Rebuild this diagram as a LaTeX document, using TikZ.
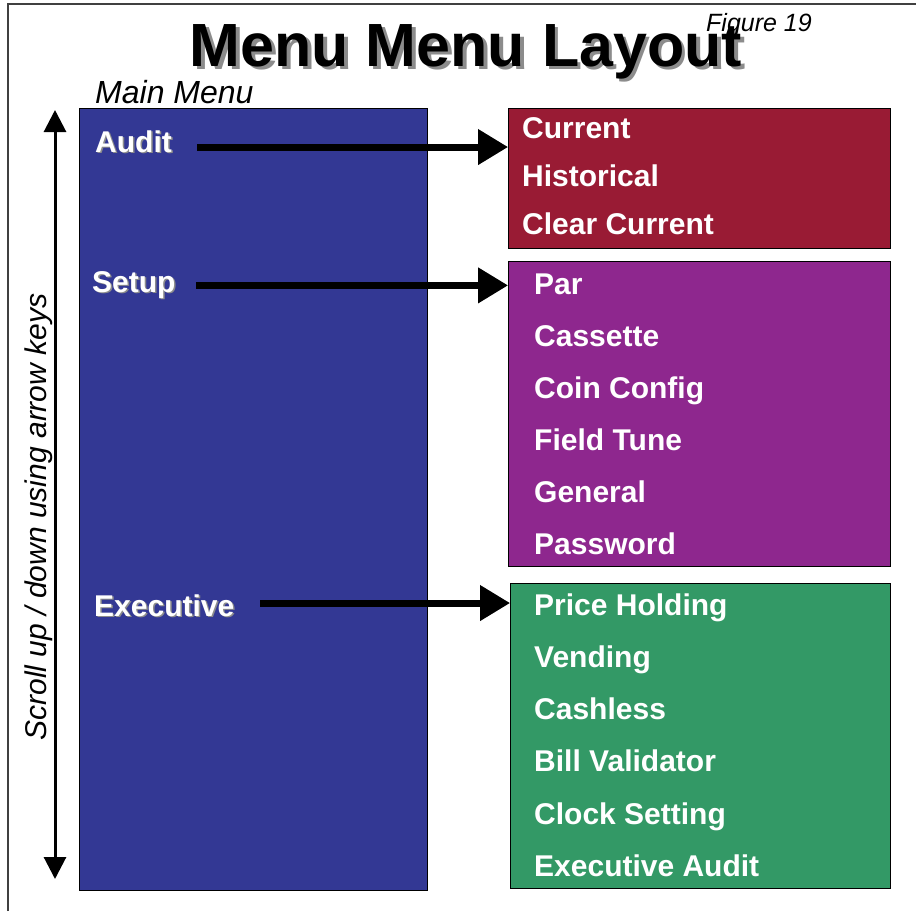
\documentclass[tikz,border=0pt]{standalone}
\usepackage{fontspec}
\setmainfont{Liberation Sans}
\usetikzlibrary{arrows.meta, positioning}
\definecolor{mainblue}{HTML}{333894}
\definecolor{auditred}{HTML}{991B34}
\definecolor{setuppurple}{HTML}{8E278E}
\definecolor{execgreen}{HTML}{339966}
\newcommand{\shtext}[2][1.5pt]{\rlap{\kern#1\raisebox{-#1}{\color{black!45}#2}}#2}
\tikzset{menubox/.style={draw=black, line width=1pt, anchor=north west, inner sep=0pt}}
\tikzset{item/.style={anchor=base west, text=white, inner sep=0pt, font=\bfseries\fontsize{30}{36}\selectfont}}
\tikzset{menuarrow/.style={line width=7pt, -{Triangle[length=30pt, width=34pt]}}}
\tikzset{arrowshadow/.style={menuarrow, draw=black!35, shift={(2pt,-3pt)}}}
\tikzset{scrollarrow/.style={line width=3pt, {Triangle[length=22pt, width=22pt]}-{Triangle[length=22pt, width=22pt]}}}

\begin{document}
\begin{tikzpicture}[x=1pt, y=-1pt]
            \useasboundingbox (0, 0) rectangle (916, 911);
            \draw[black!75, line width=1.5pt] (8, 911) -- (8, 4) -- (916, 4);
            \node[anchor=base, inner sep=0pt, font=\bfseries\fontsize{61}{70}\selectfont] (title) at (466, 66) {\shtext[3.5pt]{Menu Menu Layout}};
            \node[anchor=base west, inner sep=0pt, font=\itshape\fontsize{25}{30}\selectfont] (figure) at (706, 31) {Figure 19};
            \node[anchor=base west, inner sep=0pt, font=\itshape\fontsize{32}{38}\selectfont] (mainlabel) at (95, 103) {Main Menu};
            \node[menubox, fill=mainblue, minimum width=348pt, minimum height=782pt] (main) at (79, 108) {};
            \node[menubox, fill=auditred, minimum width=382pt, minimum height=140pt] (red) at (508, 108) {};
            \node[menubox, fill=setuppurple, minimum width=382pt, minimum height=305pt] (purple) at (508, 261) {};
            \node[menubox, fill=execgreen, minimum width=380pt, minimum height=305pt] (green) at (510, 583) {};
            \coordinate (scroll top) at (55, 110);
            \coordinate (scroll bottom) at (55, 879);
            \draw[scrollarrow] (scroll bottom) -- (scroll top);
            \node[rotate=90, anchor=base, inner sep=0pt, font=\itshape\fontsize{30}{36}\selectfont] (scroll) at (46, 517) {Scroll up / down using arrow keys};
            \node[item] (audit) at (95, 152) {\shtext{Audit}};
            \node[item] (setup) at (92, 292) {\shtext{Setup}};
            \node[item] (executive) at (94, 616) {\shtext{Executive}};
            \foreach \txt [count=\i] in {Current, Historical, Clear Current} {
                \node[item] (red\i) at (522, 90 + 48 * \i) {\txt};
            }
            \foreach \txt [count=\i] in {Par, Cassette, Coin Config, Field Tune, General, Password} {
                \node[item] (purple\i) at (534, 242 + 52 * \i) {\txt};
            }
            \foreach \txt [count=\i] in {Price Holding, Vending, Cashless, Bill Validator, Clock Setting, Executive Audit} {
                \node[item] (green\i) at (534, 563 + 52.2 * \i) {\txt};
            }
            \draw[arrowshadow] ([xshift=25pt, yshift=-5pt]audit.east) -- ([yshift=-5pt]audit.east -| red.west);
            \draw[menuarrow] ([xshift=25pt, yshift=-5pt]audit.east) -- ([yshift=-5pt]audit.east -| red.west);
            \draw[arrowshadow] ([xshift=20pt]setup.east) -- (setup.east -| purple.west);
            \draw[menuarrow] ([xshift=20pt]setup.east) -- (setup.east -| purple.west);
            \draw[arrowshadow] ([xshift=26pt, yshift=3pt]executive.east) -- ([yshift=3pt]executive.east -| green.west);
            \draw[menuarrow] ([xshift=26pt, yshift=3pt]executive.east) -- ([yshift=3pt]executive.east -| green.west);
        \end{tikzpicture}
\end{document}
